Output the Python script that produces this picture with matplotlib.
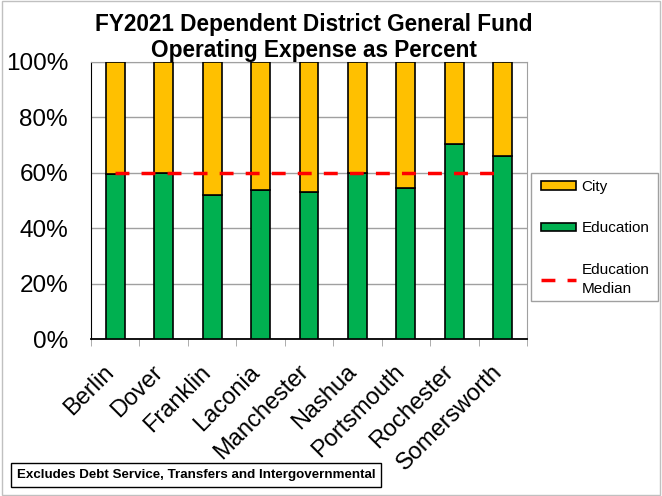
import matplotlib
matplotlib.use("Agg")
import matplotlib.pyplot as plt
import matplotlib.transforms as mtrans
from matplotlib.patches import Rectangle

plt.rcParams['font.family'] = ['Liberation Sans', 'DejaVu Sans']

districts = ['Berlin', 'Dover', 'Franklin', 'Laconia', 'Manchester',
             'Nashua', 'Portsmouth', 'Rochester', 'Somersworth']
education = [59.6, 59.9, 52.1, 53.9, 53.2, 60.1, 54.6, 70.5, 66.1]
city = [100 - e for e in education]
median_edu = 59.8

fig = plt.figure(figsize=(6.62, 4.96), dpi=100)
ax = fig.add_axes([0.1375, 0.3165, 0.6585, 0.5585])

x = list(range(len(districts)))
b_edu = ax.bar(x, education, width=0.39, color='#00B050', edgecolor='black', linewidth=1.2,
               label='Education', zorder=3)
b_city = ax.bar(x, city, width=0.39, bottom=education, color='#FFC000', edgecolor='black',
                linewidth=1.2, label='City', zorder=3)
med, = ax.plot([x[0], x[-1]], [median_edu, median_edu], color='#FF0000',
               linestyle=(0, (4, 3.5)), linewidth=2.5, label='Education\nMedian', zorder=4)

ax.set_xlim(-0.5, len(districts) - 0.5)
ax.set_ylim(0, 100)
ax.set_yticks([0, 20, 40, 60, 80, 100])
ax.set_yticklabels(['0%', '20%', '40%', '60%', '80%', '100%'], fontsize=17.5)
ax.yaxis.grid(True, color='#A0A0A0', linewidth=1, zorder=0)
ax.tick_params(axis='y', length=0, pad=16.5)

ax.set_xticks(x)
ax.set_xticklabels(districts, rotation=45, ha='right', rotation_mode='anchor', fontsize=17)
ax.tick_params(axis='x', length=0, pad=18)
shift = mtrans.ScaledTranslation(-0.12, 0.03, fig.dpi_scale_trans)
for lab in ax.get_xticklabels():
    lab.set_transform(lab.get_transform() + shift)
ax.set_xticks([i - 0.5 for i in range(len(districts) + 1)], minor=True)
ax.tick_params(axis='x', which='minor', length=5, color='#A0A0A0', direction='out')

ax.spines['left'].set_color('black')
ax.spines['bottom'].set_color('black')
ax.spines['bottom'].set_linewidth(1.3)
ax.spines['top'].set_color('#A0A0A0')
ax.spines['right'].set_color('#A0A0A0')

ax.set_title('FY2021 Dependent District General Fund\nOperating Expense as Percent',
             fontsize=16.3, fontweight='bold', linespacing=1.15, pad=3, x=0.511)

# legend without its own frame, box drawn separately
leg = fig.legend([b_city, b_edu, med], ['City', 'Education', 'Education\nMedian'],
                 loc='upper left', bbox_to_anchor=(0.799, 0.662), borderaxespad=0,
                 fontsize=11, frameon=False, labelspacing=1.8, handlelength=2.3,
                 handleheight=0.5, borderpad=0.8, handletextpad=0.35)
leg.get_texts()[2].set_multialignment('left')
leg.get_texts()[2].set_linespacing(1.45)
fig.patches.append(Rectangle((531 / 662, 1 - 300.7 / 496), 127 / 662, 128 / 496,
                             transform=fig.transFigure, fill=False,
                             edgecolor='#A0A0A0', linewidth=1))

fig.text(0.025, 0.042, 'Excludes Debt Service, Transfers and Intergovernmental',
         fontsize=9.6, fontweight='bold', ha='left', va='center', zorder=10,
         bbox=dict(boxstyle='square,pad=0.45', facecolor='white', edgecolor='black', linewidth=1))

fig.patches.append(Rectangle((0.003, 0.003), 0.994, 0.994, transform=fig.transFigure,
                             fill=False, edgecolor='#C0C0C0', linewidth=1))

fig.savefig('out.png', dpi=100)
